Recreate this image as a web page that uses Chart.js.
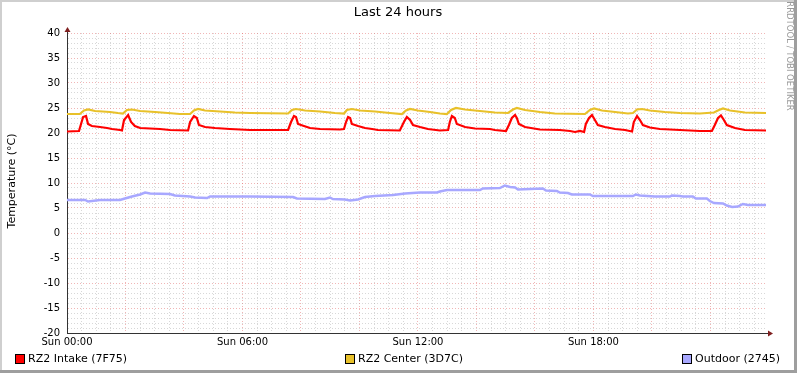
<!DOCTYPE html>
<html>
<head>
<meta charset="utf-8">
<title>Last 24 hours</title>
<script src="https://cdn.jsdelivr.net/npm/chart.js@4"></script>
<style>
    body { margin: 0; background: #ffffff; }
    #tempChart { display: block; }
</style>
</head>
<body>
<canvas id="tempChart" width="797" height="373"></canvas>
<script>
// hours since Sun 00:00, degrees C
var intakeHours = [0, 0.41, 0.48, 0.55, 0.65, 0.72, 0.85, 1.13, 1.37, 1.54, 1.81, 1.88, 1.95, 2.09, 2.19, 2.32, 2.50, 3.18, 3.52, 4.14,
    4.21, 4.34, 4.44, 4.51, 4.72, 5.06, 5.57, 6.26, 7.56, 7.66, 7.76, 7.83, 7.90, 8.10, 8.31, 8.65, 9.33, 9.47, 9.54, 9.61,
    9.68, 9.74, 9.95, 10.19, 10.43, 10.63, 11.38, 11.52, 11.62, 11.73, 11.83, 12.07, 12.34, 12.75, 13.03, 13.09, 13.16, 13.26, 13.33, 13.61,
    13.95, 14.46, 14.63, 15.01, 15.11, 15.21, 15.32, 15.38, 15.45, 15.66, 16.17, 16.85, 17.20, 17.37, 17.54, 17.68, 17.74, 17.85, 17.95, 18.05,
    18.15, 18.39, 18.74, 19.08, 19.32, 19.38, 19.49, 19.59, 19.69, 19.93, 20.27, 20.96, 21.64, 22.05, 22.15, 22.26, 22.36, 22.46, 22.56, 22.84,
    23.18, 23.90];
var intakeTemp = [20.3, 20.4, 21.8, 23.2, 23.4, 21.8, 21.4, 21.2, 21.0, 20.8, 20.6, 20.5, 22.6, 23.6, 22.2, 21.4, 21.0, 20.8, 20.6, 20.5,
    22.2, 23.4, 23.0, 21.6, 21.2, 21.0, 20.8, 20.6, 20.6, 22.2, 23.4, 23.2, 21.8, 21.4, 21.0, 20.8, 20.7, 20.8, 22.2, 23.2,
    23.0, 21.8, 21.4, 21.0, 20.8, 20.6, 20.5, 22.2, 23.2, 22.6, 21.6, 21.2, 20.8, 20.5, 20.6, 22.2, 23.4, 23.0, 21.8, 21.2,
    20.9, 20.8, 20.6, 20.4, 21.6, 23.0, 23.6, 23.0, 21.8, 21.2, 20.7, 20.6, 20.4, 20.2, 20.4, 20.2, 21.8, 23.0, 23.6, 22.6,
    21.6, 21.2, 20.8, 20.6, 20.3, 22.2, 23.4, 22.6, 21.6, 21.1, 20.8, 20.6, 20.4, 20.4, 21.6, 23.0, 23.5, 22.6, 21.6, 21.0,
    20.6, 20.5];

var centerHours = [0, 0.44, 0.58, 0.72, 0.96, 1.47, 1.74, 1.91, 2.05, 2.22, 2.50, 3.01, 3.45, 3.86, 4.21, 4.34, 4.48, 4.72, 5.23, 5.74,
    6.26, 7.56, 7.69, 7.83, 8.14, 8.65, 9.16, 9.47, 9.57, 9.74, 10.02, 10.53, 11.04, 11.45, 11.59, 11.73, 12.00, 12.41, 12.75, 12.99,
    13.13, 13.30, 13.61, 14.12, 14.63, 15.08, 15.25, 15.38, 15.66, 16.17, 16.68, 17.71, 17.88, 18.02, 18.29, 18.74, 19.18, 19.35, 19.49, 19.66,
    19.93, 20.44, 20.96, 21.64, 22.12, 22.29, 22.43, 22.67, 23.18, 23.90];
var centerTemp = [23.8, 23.8, 24.5, 24.7, 24.4, 24.2, 24.0, 23.9, 24.6, 24.7, 24.4, 24.2, 24.0, 23.8, 23.8, 24.5, 24.8, 24.5, 24.3, 24.1,
    24.0, 23.9, 24.6, 24.8, 24.5, 24.3, 24.0, 23.9, 24.6, 24.8, 24.5, 24.3, 24.0, 23.8, 24.5, 24.8, 24.5, 24.2, 23.9, 23.8,
    24.6, 25.0, 24.7, 24.4, 24.1, 24.0, 24.7, 25.0, 24.6, 24.2, 23.9, 23.8, 24.6, 24.9, 24.5, 24.2, 23.9, 24.0, 24.7, 24.8,
    24.5, 24.2, 24.0, 23.9, 24.1, 24.6, 24.9, 24.5, 24.1, 24.0];

var outdoorHours = [0, 0.62, 0.72, 0.85, 1.13, 1.81, 1.98, 2.22, 2.50, 2.67, 2.84, 3.52, 3.69, 4.21, 4.38, 4.79, 4.89, 6.26, 7.73, 7.86,
    8.82, 8.99, 9.09, 9.50, 9.68, 9.95, 10.19, 10.53, 11.15, 11.56, 12.07, 12.65, 12.75, 12.99, 14.12, 14.22, 14.80, 14.97, 15.15, 15.32,
    15.42, 15.83, 16.27, 16.38, 16.75, 16.85, 17.13, 17.26, 17.88, 17.98, 19.35, 19.45, 19.59, 20.10, 20.62, 20.68, 20.96, 21.06, 21.40, 21.50,
    21.88, 21.98, 22.12, 22.43, 22.56, 22.74, 22.94, 23.11, 23.28, 23.90];
var outdoorTemp = [6.6, 6.6, 6.3, 6.4, 6.6, 6.6, 6.9, 7.3, 7.7, 8.1, 7.9, 7.8, 7.5, 7.3, 7.1, 7.0, 7.3, 7.3, 7.2, 6.9,
    6.8, 7.1, 6.8, 6.7, 6.5, 6.7, 7.2, 7.4, 7.6, 7.9, 8.1, 8.1, 8.3, 8.6, 8.6, 8.9, 9.0, 9.5, 9.2, 9.1,
    8.7, 8.8, 8.9, 8.5, 8.4, 8.1, 8.0, 7.7, 7.7, 7.4, 7.4, 7.7, 7.5, 7.3, 7.3, 7.5, 7.4, 7.3, 7.3, 6.9,
    6.9, 6.4, 6.0, 5.9, 5.5, 5.2, 5.3, 5.8, 5.6, 5.6];

var seriesNames = ['RZ2 Intake (7F75)', 'RZ2 Center (3D7C)', 'Outdoor (2745)'];
var seriesColors = ['#FF0000', '#E8C12A', '#A8A8FF'];
var dayName = 'Sun';

var gridColor = 'rgba(143,143,143,0.35)';
var mgridColor = 'rgba(222,80,80,0.42)';

function toPoints(hours, temps) {
    var pts = [];
    for (var i = 0; i < hours.length; i++) {
        pts.push({ x: hours[i], y: temps[i] });
    }
    return pts;
}

function isMultiple(v, n) {
    return Math.abs(v / n - Math.round(v / n)) < 1e-6;
}

var rrdDecor = {
    id: 'rrdDecor',
    beforeDraw: function (chart) {
        var ctx = chart.ctx;
        var w = chart.width, h = chart.height;
        ctx.save();
        ctx.fillStyle = '#ffffff';
        ctx.fillRect(0, 0, w, h);
        ctx.fillStyle = '#CFCFCF';
        ctx.fillRect(0, 0, w, 2);
        ctx.fillRect(0, 0, 2, h);
        ctx.fillStyle = '#9E9E9E';
        ctx.fillRect(w - 3, 0, 3, h);
        ctx.fillRect(0, h - 3, w, 3);
        ctx.restore();
    },
    afterDraw: function (chart) {
        var ctx = chart.ctx;
        var area = chart.chartArea;
        ctx.save();

        // axis extensions + arrows
        ctx.strokeStyle = '#333333';
        ctx.lineWidth = 1;
        ctx.beginPath();
        ctx.moveTo(area.left + 0.5, area.top);
        ctx.lineTo(area.left + 0.5, area.top - 4);
        ctx.moveTo(area.right, area.bottom + 0.5);
        ctx.lineTo(area.right + 3, area.bottom + 0.5);
        ctx.stroke();
        ctx.fillStyle = '#7F1F1F';
        ctx.beginPath();
        ctx.moveTo(area.left + 0.5, area.top - 6);
        ctx.lineTo(area.left - 2.5, area.top - 1);
        ctx.lineTo(area.left + 3.5, area.top - 1);
        ctx.closePath();
        ctx.fill();
        ctx.beginPath();
        ctx.moveTo(area.right + 7, area.bottom + 0.5);
        ctx.lineTo(area.right + 2, area.bottom - 2.5);
        ctx.lineTo(area.right + 2, area.bottom + 3.5);
        ctx.closePath();
        ctx.fill();

        // title
        ctx.fillStyle = '#000000';
        ctx.font = '13px "DejaVu Sans"';
        ctx.textAlign = 'center';
        ctx.textBaseline = 'middle';
        ctx.fillText('Last 24 hours', 398, 13);

        // y axis title
        ctx.save();
        ctx.translate(12, 181);
        ctx.rotate(-Math.PI / 2);
        ctx.font = '11px "DejaVu Sans"';
        ctx.fillText('Temperature (°C)', 0, 0);
        ctx.restore();

        // watermark on the right
        ctx.save();
        ctx.translate(789, 56);
        ctx.rotate(Math.PI / 2);
        ctx.fillStyle = '#999999';
        ctx.font = '8.5px "DejaVu Sans"';
        ctx.fillText('RRDTOOL / TOBI OETIKER', 0, 0);
        ctx.restore();

        // legend
        var legendX = [15, 345, 682];
        ctx.font = '11px "DejaVu Sans"';
        ctx.textAlign = 'left';
        for (var i = 0; i < seriesNames.length; i++) {
            ctx.fillStyle = seriesColors[i];
            ctx.fillRect(legendX[i], 354, 9, 9);
            ctx.strokeStyle = '#000000';
            ctx.lineWidth = 1;
            ctx.strokeRect(legendX[i] + 0.5, 354.5, 9, 9);
            ctx.fillStyle = '#000000';
            ctx.fillText(seriesNames[i], legendX[i] + 13, 359);
        }
        ctx.restore();
    }
};

function createChart() {
    var config = {
        type: 'line',
        data: {
            datasets: [
                {
                    label: seriesNames[2],
                    data: toPoints(outdoorHours, outdoorTemp),
                    borderColor: seriesColors[2],
                    borderWidth: 2.5
                },
                {
                    label: seriesNames[1],
                    data: toPoints(centerHours, centerTemp),
                    borderColor: seriesColors[1],
                    borderWidth: 2.2
                },
                {
                    label: seriesNames[0],
                    data: toPoints(intakeHours, intakeTemp),
                    borderColor: seriesColors[0],
                    borderWidth: 2.2
                }
            ]
        },
        options: {
            responsive: false,
            animation: false,
            layout: { padding: { top: 33, right: 31, bottom: 0, left: 0 } },
            elements: {
                point: { radius: 0 },
                line: { tension: 0, borderJoinStyle: 'miter' }
            },
            plugins: {
                legend: { display: false },
                title: { display: false },
                tooltip: { enabled: false }
            },
            scales: {
                x: {
                    type: 'linear',
                    min: 0,
                    max: 23.9,
                    afterFit: function (scale) { scale.height = 40; },
                    border: { display: true, color: '#333333', width: 1, dash: [1, 2] },
                    grid: {
                        drawTicks: false,
                        lineWidth: 1,
                        color: function (c) {
                            if (!c.tick) return gridColor;
                            return isMultiple(c.tick.value, 2) ? mgridColor : gridColor;
                        }
                    },
                    ticks: {
                        stepSize: 0.5,
                        autoSkip: false,
                        maxRotation: 0,
                        includeBounds: false,
                        padding: 3,
                        color: '#000000',
                        font: { family: 'DejaVu Sans', size: 10 },
                        callback: function (value) {
                            if (!isMultiple(value, 6)) return '';
                            var hh = Math.round(value);
                            return dayName + ' ' + (hh < 10 ? '0' + hh : hh) + ':00';
                        }
                    }
                },
                y: {
                    min: -20,
                    max: 40,
                    afterFit: function (scale) { scale.width = 67; },
                    border: { display: true, color: '#333333', width: 1, dash: [1, 2] },
                    grid: {
                        drawTicks: false,
                        lineWidth: 1,
                        color: function (c) {
                            if (!c.tick) return gridColor;
                            return isMultiple(c.tick.value, 5) ? mgridColor : gridColor;
                        }
                    },
                    ticks: {
                        stepSize: 1,
                        autoSkip: false,
                        padding: 7,
                        color: '#000000',
                        font: { family: 'DejaVu Sans', size: 10 },
                        callback: function (value) {
                            return isMultiple(value, 5) ? String(value) : '';
                        }
                    }
                }
            }
        },
        plugins: [rrdDecor]
    };

    var ctx = document.getElementById('tempChart');
    new Chart(ctx, config);
}

createChart();
</script>
</body>
</html>
